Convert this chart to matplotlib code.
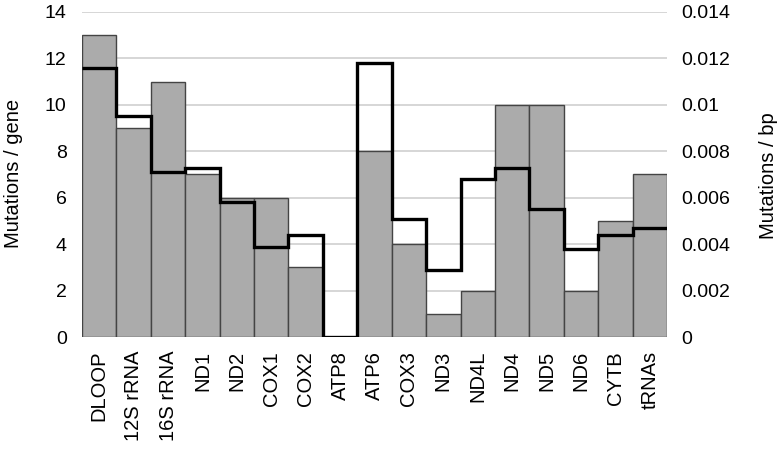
import numpy as np
import matplotlib.pyplot as plt

plt.rcParams['font.family'] = ['Liberation Sans', 'DejaVu Sans']

genes = ['DLOOP', '12S rRNA', '16S rRNA', 'ND1', 'ND2', 'COX1', 'COX2', 'ATP8',
         'ATP6', 'COX3', 'ND3', 'ND4L', 'ND4', 'ND5', 'ND6', 'CYTB', 'tRNAs']
per_gene = [13, 9, 11, 7, 6, 6, 3, 0, 8, 4, 1, 2, 10, 10, 2, 5, 7]
per_bp = [0.0116, 0.0095, 0.0071, 0.0073, 0.0058, 0.0039, 0.0044, 0.0,
          0.0118, 0.0051, 0.0029, 0.0068, 0.0073, 0.0055, 0.0038, 0.0044, 0.0047]

left_ticks = [0, 2, 4, 6, 8, 10, 12, 14]
right_ticks = [0, 0.002, 0.004, 0.006, 0.008, 0.01, 0.012, 0.014]
right_labels = ['0', '0.002', '0.004', '0.006', '0.008', '0.01', '0.012', '0.014']

fig = plt.figure(figsize=(7.81, 4.58), dpi=100)
ax = fig.add_axes([0.105, 0.264, 0.749, 0.710])
x = np.arange(len(genes))

ax.bar(x, per_gene, width=1.0, color='#ababab', edgecolor='#444444', linewidth=1.0, zorder=2)
ax.set_xlim(-0.5, len(genes) - 0.5)
ax.set_ylim(0, 14)
ax.set_yticks(left_ticks)
ax.set_xticks(x)
ax.set_xticklabels(genes, rotation=90, fontsize=14.5)
ax.tick_params(axis='y', labelsize=14, length=0, pad=11)
ax.tick_params(axis='x', length=0, pad=10)
ax.yaxis.grid(True, color='#cfcfcf', linewidth=1.2, zorder=0)
ax.set_axisbelow(True)
for s in ax.spines.values():
    s.set_visible(False)

ax2 = ax.twinx()
ax2.stairs(per_bp, np.arange(len(genes) + 1) - 0.5, baseline=None,
           color='black', linewidth=2.4, zorder=3)
ax2.set_ylim(0, 0.014)
ax2.set_yticks(right_ticks)
ax2.set_yticklabels(right_labels)
ax2.tick_params(axis='y', labelsize=14, length=0, pad=10)
for s in ax2.spines.values():
    s.set_visible(False)

# axis titles placed by hand
fig.text(14 / 781, 1 - 173 / 458, 'Mutations / gene', rotation=90,
         ha='center', va='center', fontsize=14.5)
fig.text(768 / 781, 1 - 176 / 458, 'Mutations / bp', rotation=90,
         ha='center', va='center', fontsize=14.5)

fig.savefig('out.png', dpi=100)
